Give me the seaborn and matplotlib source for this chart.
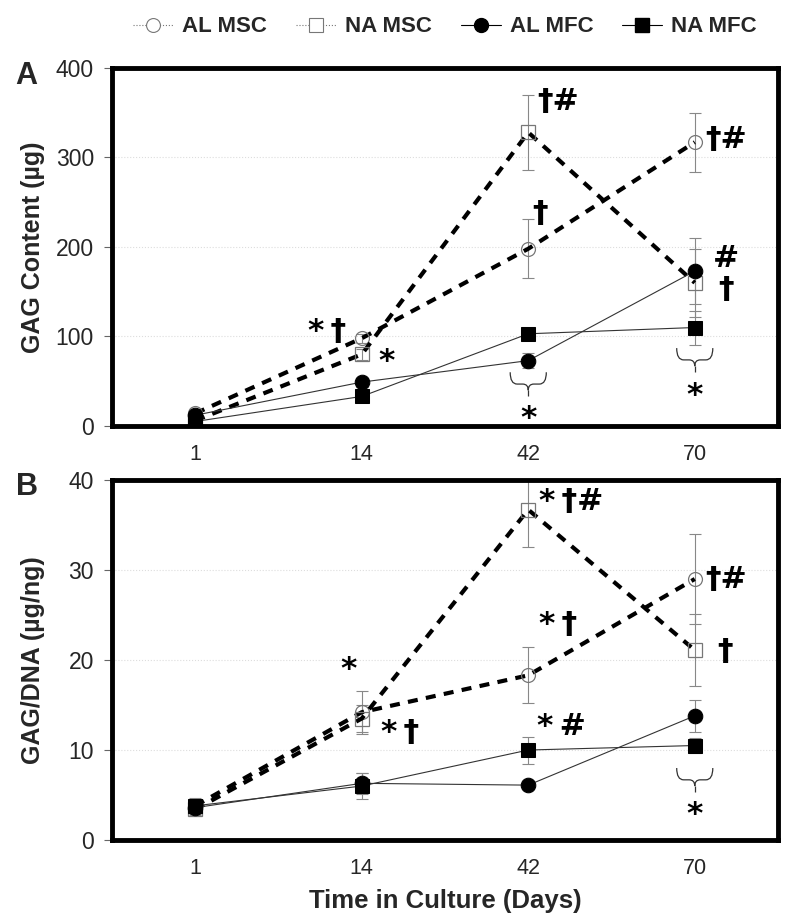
import numpy as np
import seaborn as sns
import matplotlib
matplotlib.use("Agg")
from matplotlib import pyplot as plt
from matplotlib.lines import Line2D
from matplotlib.path import Path
from matplotlib.patches import PathPatch
from matplotlib.transforms import Affine2D, ScaledTranslation

# ---- data ----
days = ["1", "14", "42", "70"]
series = ["AL MSC", "NA MSC", "AL MFC", "NA MFC"]

# panel A: GAG content (ug)
gag_al_msc = [14, 98, 198, 317]
gag_al_msc_err = [3, 5, 33, 33]
gag_na_msc = [6, 80, 328, 160]
gag_na_msc_err = [2, 6, 42, 38]
gag_al_mfc = [12, 49, 73, 173]
gag_al_mfc_err = [2, 5, 8, 37]
gag_na_mfc = [5, 33, 103, 110]
gag_na_mfc_err = [2, 3, 3, 19]

# panel B: GAG/DNA (ug/ng)
dna_al_msc = [3.8, 14.2, 18.3, 29.0]
dna_al_msc_err = [0.5, 2.4, 3.1, 5.0]
dna_na_msc = [3.4, 13.5, 36.7, 21.1]
dna_na_msc_err = [0.6, 1.5, 4.1, 4.0]
dna_al_mfc = [3.6, 6.3, 6.1, 13.8]
dna_al_mfc_err = [0.4, 1.2, 0.3, 1.8]
dna_na_mfc = [3.8, 6.0, 10.0, 10.5]
dna_na_mfc_err = [0.9, 1.4, 1.5, 0.8]

# significance marks (x in category units, y in data units)
marks_a = [("*\u2009\u2020", 0.79, 105), ("*", 1.15, 72),
           ("\u2020#", 2.18, 362), ("\u2020", 2.07, 237), ("*", 2.0, 8),
           ("\u2020#", 3.19, 320), ("#", 3.19, 187), ("\u2020", 3.19, 153), ("*", 3.0, 34)]
braces_a = [(2.0, 60), (3.0, 87)]
marks_b = [("*", 0.92, 18.9), ("*\u2009\u2020", 1.23, 11.9),
           ("*\u2009\u2020#", 2.26, 37.6), ("*\u2009\u2020", 2.18, 24.0), ("*\u2009#", 2.2, 12.6),
           ("\u2020#", 3.19, 29.0), ("\u2020", 3.18, 20.9), ("*", 3.0, 2.8)]
braces_b = [(3.0, 8.0)]

sns.set_style("white")
plt.rcParams["font.family"] = ["Liberation Sans", "DejaVu Sans"]

styles = {
    "AL MSC": dict(color="black", lw=3.0, linestyle=(0, (2.4, 2.0)), marker="o", markersize=10,
                   markerfacecolor="none", markeredgecolor="#777777", markeredgewidth=0.9),
    "NA MSC": dict(color="black", lw=3.0, linestyle=(0, (2.4, 2.0)), marker="s", markersize=9.5,
                   markerfacecolor="none", markeredgecolor="#777777", markeredgewidth=0.9),
    "AL MFC": dict(color="#333333", lw=0.8, linestyle="-", marker="o", markersize=10.5,
                   markerfacecolor="black", markeredgecolor="black"),
    "NA MFC": dict(color="#333333", lw=0.8, linestyle="-", marker="s", markersize=9.5,
                   markerfacecolor="black", markeredgecolor="black"),
}

# curly brace (in points), top edge at the anchor, pointing down
brace_verts = [(-13, 0), (-13, -8.5), (-8, -8.5), (-4, -8.5), (0, -8.5), (0, -13),
               (0, -8.5), (4, -8.5), (8, -8.5), (13, -8.5), (13, 0)]
brace_codes = [Path.MOVETO, Path.CURVE3, Path.CURVE3, Path.LINETO, Path.CURVE3, Path.CURVE3,
               Path.CURVE3, Path.CURVE3, Path.LINETO, Path.CURVE3, Path.CURVE3]
brace_tail = [(0, -13), (0, -17)]

fig = plt.figure(figsize=(8, 9.22), dpi=100)
ax_a = fig.add_axes([0.14, 0.538, 0.8325, 0.3883])
ax_b = fig.add_axes([0.14, 0.0889, 0.8325, 0.3905])

x = np.arange(len(days))


def draw_brace(ax, bx, by):
    trans = Affine2D().scale(fig.dpi / 72) + ScaledTranslation(bx, by, ax.transData)
    for verts, codes in [(brace_verts, brace_codes), (brace_tail, None)]:
        ax.add_artist(PathPatch(Path(verts, codes), transform=trans, fill=False,
                                edgecolor="#333333", lw=0.9, clip_on=False))


def draw_panel(ax, values, errors, marks, braces, ymax, ystep, ylabel):
    for name, vals, err in zip(series, values, errors):
        ax.errorbar(x, vals, yerr=err, fmt="none", ecolor="#888888", elinewidth=0.8,
                    capsize=4, capthick=0.8, zorder=1)
    for name, vals in zip(series, values):
        sns.lineplot(x=x, y=vals, ax=ax, errorbar=None, **styles[name])
    ax.set_xlim(-0.5, len(days) - 0.5)
    ax.set_ylim(0, ymax)
    ax.set_yticks(np.arange(0, ymax + ystep, ystep))
    ax.set_xticks(x)
    ax.set_xticklabels(days)
    ax.set_xticks(np.arange(-0.5, len(days), 1), minor=True)
    ax.tick_params(axis="x", which="major", length=0, pad=13, labelsize=15.5)
    ax.tick_params(axis="x", which="minor", length=6, width=0.8, color="#666666")
    ax.tick_params(axis="y", which="major", left=True, length=6, width=0.8, color="#666666",
                   pad=7, labelsize=16.5)
    ax.yaxis.grid(True, color="#dddddd", linestyle=":", lw=0.8)
    ax.set_axisbelow(True)
    for sp in ax.spines.values():
        sp.set_linewidth(3.5)
        sp.set_color("black")
    ax.set_ylabel(ylabel, fontsize=18, fontweight="bold")
    ax.yaxis.set_label_coords(-0.1, 0.5)
    ax.set_xlabel("")
    for txt, tx, ty in marks:
        ax.text(tx, ty, txt, fontsize=22.5, fontweight="bold", family="DejaVu Sans",
                ha="center", va="center", color="black")
    for bx, by in braces:
        draw_brace(ax, bx, by)


draw_panel(ax_a, [gag_al_msc, gag_na_msc, gag_al_mfc, gag_na_mfc],
           [gag_al_msc_err, gag_na_msc_err, gag_al_mfc_err, gag_na_mfc_err],
           marks_a, braces_a, 400, 100, "GAG Content (\u00b5g)")
draw_panel(ax_b, [dna_al_msc, dna_na_msc, dna_al_mfc, dna_na_mfc],
           [dna_al_msc_err, dna_na_msc_err, dna_al_mfc_err, dna_na_mfc_err],
           marks_b, braces_b, 40, 10, "GAG/DNA (\u00b5g/ng)")
ax_b.set_xlabel("Time in Culture (Days)", fontsize=18.5, fontweight="bold", labelpad=7)

fig.text(26 / 800, 1 - 76 / 922, "A", fontsize=22, fontweight="bold", ha="center", va="center")
fig.text(27 / 800, 1 - 487 / 922, "B", fontsize=22, fontweight="bold", ha="center", va="center")

handles = [
    Line2D([], [], color="#777777", lw=0.8, linestyle=":", marker="o", markersize=10,
           markerfacecolor="white", markeredgecolor="#777777", markeredgewidth=0.8),
    Line2D([], [], color="#777777", lw=0.8, linestyle=":", marker="s", markersize=9.5,
           markerfacecolor="white", markeredgecolor="#777777", markeredgewidth=0.8),
    Line2D([], [], color="black", lw=0.8, linestyle="-", marker="o", markersize=10,
           markerfacecolor="black", markeredgecolor="black"),
    Line2D([], [], color="black", lw=0.8, linestyle="-", marker="s", markersize=9.5,
           markerfacecolor="black", markeredgecolor="black"),
]
fig.legend(handles, series, loc="center", bbox_to_anchor=(445 / 800, 1 - 27 / 922), ncol=4,
           frameon=False, handlelength=1.8, handletextpad=0.4, columnspacing=1.3,
           prop={"size": 16, "weight": "bold"})

fig.savefig("out.png", dpi=100)
